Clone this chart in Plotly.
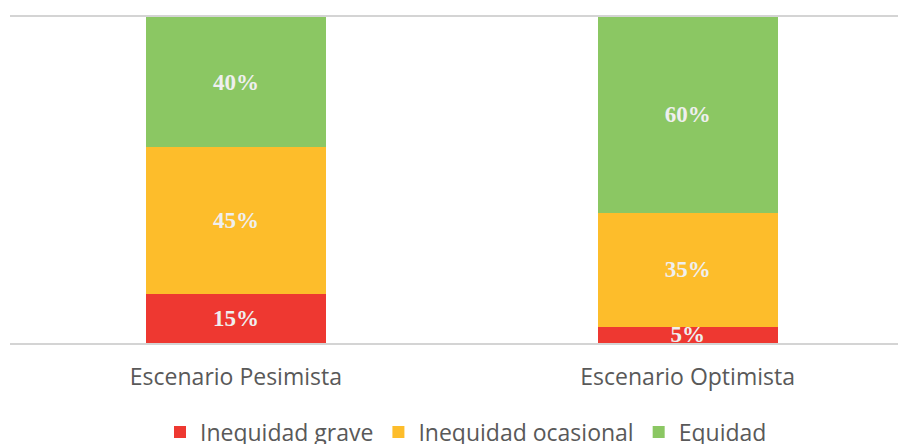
import plotly.graph_objects as go

categories = ["Escenario Pesimista", "Escenario Optimista"]
series_names = ["Inequidad grave", "Inequidad ocasional", "Equidad"]
grave = [0.15, 0.05]
ocasional = [0.45, 0.35]
equidad = [0.40, 0.60]
colors = ["#EE3831", "#FDBD2B", "#8BC763"]

fig = go.Figure()
for name, vals, col in zip(series_names, [grave, ocasional, equidad], colors):
    fig.add_trace(go.Bar(
        x=categories, y=vals, name=name,
        marker=dict(color=col, line=dict(width=0)),
        width=0.398,
        text=[f"{round(v*100)}%" for v in vals],
        textposition="inside",
        insidetextanchor="middle",
        textangle=0,
        textfont=dict(family="Liberation Serif", size=23, color="#EFEFEF", weight="bold"),
    ))

# page body has an 8px margin; compensate so the plot lands where the reference has it
W, H = 906, 444
ml, mr, mt, mb = 1.5, 0, 9, 109
pw = W - ml - mr
fig.update_layout(
    barmode="stack",
    width=W, height=H,
    margin=dict(l=ml, r=mr, t=mt, b=mb, pad=0, autoexpand=False),
    paper_bgcolor="white", plot_bgcolor="white",
    uniformtext=dict(minsize=23, mode="show"),
    xaxis=dict(range=[-0.5, -0.5 + pw / 452], showgrid=False, zeroline=False,
               showline=True, mirror=True, linecolor="#D4D4D4", linewidth=2, layer="below traces",
               automargin=False, ticklabelstandoff=12,
               tickfont=dict(family="Open Sans", size=23, color="#595959"), ticks="", ticklen=0),
    yaxis=dict(range=[0, 1], showticklabels=False, showgrid=False, automargin=False,
               zeroline=False, showline=False),
    legend=dict(orientation="h", x=(466 - 8) / W, xanchor="center", xref="container",
                y=1 - 424 / 444, yanchor="middle", yref="container",
                font=dict(family="Open Sans", size=23, color="#595959"), traceorder="normal",
                itemwidth=30, tracegroupgap=0),
    showlegend=True,
)
fig.write_html("out.html")
